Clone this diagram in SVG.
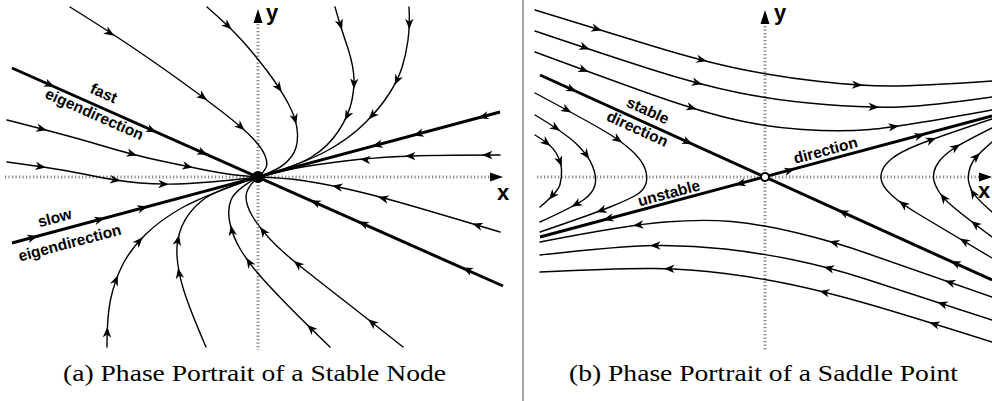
<svg xmlns="http://www.w3.org/2000/svg" xmlns:xlink="http://www.w3.org/1999/xlink" width="992" height="401" viewBox="0 0 992 401">
<style>
.thin{fill:none;stroke:#000;stroke-width:1.4;stroke-linecap:round}
.thick{fill:none;stroke:#000;stroke-width:3}
.axis{fill:none;stroke:#888;stroke-width:3;stroke-dasharray:1.2 2.3}
.lbl{font-family:"Liberation Sans",Arial,Helvetica,sans-serif;font-weight:bold;font-size:15.5px;text-anchor:middle;fill:#000}
.ax{font-family:"Liberation Sans",Arial,Helvetica,sans-serif;font-weight:bold;font-size:22px;fill:#000}
.cap{font-family:"Liberation Serif","Times New Roman",serif;font-size:24px;fill:#000}
</style>
<defs>
<path id="ah" d="M5,0 L-5.5,-4.2 L-2.5,0 L-5.5,4.2 Z" fill="#000"/>
</defs>
<rect width="992" height="401" fill="#fff"/>
<line x1="523" y1="0" x2="523" y2="401" stroke="#777" stroke-width="1.3"/>

<!-- Panel (a): stable node -->
<g id="panel-a-axes">
<line class="axis" x1="258" y1="24" x2="258" y2="350"/>
<line class="axis" x1="5" y1="177" x2="490" y2="177"/>
<polygon points="258,9 253.5,23 262.5,23" fill="#000"/>
<polygon points="503,177 490,172.5 490,181.5" fill="#000"/>
<text class="ax" x="266" y="20">y</text>
<text class="ax" x="497" y="200">x</text>
</g>
<g id="panel-a-trajectories">
<path class="thick" d="M12,68 L503,286"/>
<path class="thick" d="M12,243 L500,112"/>
<path class="thin" d="M70,7 Q110,32 135,49 Q160,66 181.5,81.5 Q203,97 223,112.5 Q243,128 252.5,138 Q262,148 265,155.5 Q268,163 266,167.5 Q264,172 258,177"/>
<path class="thin" d="M207,7 Q230,27 242.5,41 Q255,55 267.5,71.5 Q280,88 288.5,104 Q297,120 297.5,134 Q298,148 291.5,156.5 Q285,165 276,169.5 Q267,174 258,177"/>
<path class="thin" d="M335,7 Q341,28 346.5,44 Q352,60 353.5,72.5 Q355,85 352,100 Q349,115 338.5,131 Q328,147 311.5,157 Q295,167 258,177"/>
<path class="thin" d="M409,7 Q410,25 408,40 Q406,55 402,67.5 Q398,80 389,94 Q380,108 365,123 Q350,138 327.5,150.5 Q305,163 258,177"/>
<path class="thin" d="M500,155 Q430,155 400,156.5 Q370,158 345,161 Q320,164 302.5,167 Q285,170 258,177"/>
<path class="thin" d="M500,232 Q430,211 400,202.5 Q370,194 345,188.5 Q320,183 302.5,180.5 Q285,178 258,177"/>
<path class="thin" d="M7,120 Q70,136 101.5,145.5 Q133,155 161.5,161 Q190,167 210,171 Q230,175 258,177"/>
<path class="thin" d="M7,162 Q60,169 88.5,175 Q117,181 140,183 Q163,185 189,183.5 Q215,182 258,177"/>
<path class="thin" d="M107,347 Q107,315 111,297.5 Q115,280 122.5,265 Q130,250 145,235 Q160,220 182.5,207.5 Q205,195 258,177"/>
<path class="thin" d="M206,347 Q190,310 184,291 Q178,272 177,256 Q176,240 182,226 Q188,212 201.5,201 Q215,190 258,177"/>
<path class="thin" d="M330,347 Q300,318 284,301.5 Q268,285 258,273.5 Q248,262 240.5,249.5 Q233,237 230,223.5 Q227,210 231,200 Q235,190 258,177"/>
<path class="thin" d="M403,347 Q360,313 337.5,295.5 Q315,278 297.5,264 Q280,250 269,238 Q258,226 252,215.5 Q246,205 246,196.5 Q246,188 258,177"/>
</g>
<g id="panel-a-arrows">
<use href="#ah" transform="translate(50,84.8) rotate(23.9)"/>
<use href="#ah" transform="translate(152,130.2) rotate(23.9)"/>
<use href="#ah" transform="translate(203,152.8) rotate(23.9)"/>
<use href="#ah" transform="translate(315,202.3) rotate(203.9)"/>
<use href="#ah" transform="translate(363,223.5) rotate(203.9)"/>
<use href="#ah" transform="translate(467,269.6) rotate(203.9)"/>
<use href="#ah" transform="translate(483,116.7) rotate(165)"/>
<use href="#ah" transform="translate(418,134.1) rotate(165)"/>
<use href="#ah" transform="translate(377,145.1) rotate(165)"/>
<use href="#ah" transform="translate(33,237.4) rotate(-15)"/>
<use href="#ah" transform="translate(100,219.4) rotate(-15)"/>
<use href="#ah" transform="translate(143,207.8) rotate(-15)"/>
<use href="#ah" transform="translate(110,33) rotate(32)"/>
<use href="#ah" transform="translate(203,97) rotate(36)"/>
<use href="#ah" transform="translate(241,127) rotate(42)"/>
<use href="#ah" transform="translate(228,26) rotate(42)"/>
<use href="#ah" transform="translate(279,88) rotate(55)"/>
<use href="#ah" transform="translate(295,119.5) rotate(75)"/>
<use href="#ah" transform="translate(340.5,25) rotate(72)"/>
<use href="#ah" transform="translate(354,84) rotate(92)"/>
<use href="#ah" transform="translate(347,116) rotate(118)"/>
<use href="#ah" transform="translate(409.3,24.3) rotate(90)"/>
<use href="#ah" transform="translate(396.8,80.4) rotate(115)"/>
<use href="#ah" transform="translate(372,115.6) rotate(135)"/>
<use href="#ah" transform="translate(487,155) rotate(180)"/>
<use href="#ah" transform="translate(410,156) rotate(181)"/>
<use href="#ah" transform="translate(365,159.5) rotate(186)"/>
<use href="#ah" transform="translate(477,225.2) rotate(196)"/>
<use href="#ah" transform="translate(383,198.2) rotate(195)"/>
<use href="#ah" transform="translate(337,186.6) rotate(191)"/>
<use href="#ah" transform="translate(42,129) rotate(15)"/>
<use href="#ah" transform="translate(132.3,154.1) rotate(16)"/>
<use href="#ah" transform="translate(187.9,166.5) rotate(12)"/>
<use href="#ah" transform="translate(41,166.7) rotate(8)"/>
<use href="#ah" transform="translate(115.6,180) rotate(8)"/>
<use href="#ah" transform="translate(163.8,184.1) rotate(1)"/>
<use href="#ah" transform="translate(107.2,332) rotate(-88)"/>
<use href="#ah" transform="translate(116,280) rotate(-68)"/>
<use href="#ah" transform="translate(139.3,241) rotate(-47)"/>
<use href="#ah" transform="translate(179,273) rotate(-100)"/>
<use href="#ah" transform="translate(178,240) rotate(-78)"/>
<use href="#ah" transform="translate(310.7,328.2) rotate(-136)"/>
<use href="#ah" transform="translate(249,262) rotate(-122)"/>
<use href="#ah" transform="translate(231.8,230.2) rotate(-100)"/>
<use href="#ah" transform="translate(372,322.4) rotate(-141)"/>
<use href="#ah" transform="translate(297.5,264) rotate(-141)"/>
<use href="#ah" transform="translate(263,231) rotate(-125)"/>
</g>
<g id="panel-a-origin"><circle cx="258" cy="177" r="6" fill="#000"/></g>
<g id="panel-a-labels">
<g transform="translate(98,106.2) rotate(23.9)">
<text class="lbl" x="0" y="-9">fast</text>
<text class="lbl" x="0" y="14">eigendirection</text>
</g>
<g transform="translate(62,229.6) rotate(-15)">
<text class="lbl" x="-4" y="-8">slow</text>
<text class="lbl" x="4" y="20">eigendirection</text>
</g>
</g>
<text id="caption-a" class="cap" x="63" y="381" textLength="383" lengthAdjust="spacingAndGlyphs">(a) Phase Portrait of a Stable Node</text>

<!-- Panel (b): saddle point -->
<g id="panel-b-axes">
<line class="axis" x1="765" y1="26" x2="765" y2="350"/>
<line class="axis" x1="537" y1="177" x2="980" y2="177"/>
<polygon points="765,10 760.5,24 769.5,24" fill="#000"/>
<polygon points="992,177 979,172.5 979,181.5" fill="#000"/>
<text class="ax" x="774" y="20">y</text>
<text class="ax" x="978" y="198">x</text>
</g>
<g id="panel-b-trajectories">
<path class="thick" d="M540,75 L992,280"/>
<path class="thick" d="M540,237 L992,116"/>
<path class="thin" d="M535,10 Q600,30 652.5,46 Q705,62 742.5,69.5 Q780,77 820,81.5 Q860,86 890,86 Q920,86 992,81"/>
<path class="thin" d="M535,31 Q600,53 650,69 Q700,85 740,93 Q780,101 825,104.5 Q870,108 900,107 Q930,106 992,97"/>
<path class="thin" d="M535,52 Q600,76 647.5,93 Q695,110 730,118.5 Q765,127 802.5,129.5 Q840,132 870,129.5 Q900,127 992,110"/>
<path class="thin" d="M992,258 Q940,227 920,215 Q900,203 892,195.5 Q884,188 882,182.5 Q880,177 882,171 Q884,165 892,158.5 Q900,152 917.5,145 Q935,138 992,119"/>
<path class="thin" d="M992,237 Q960,213 951,205 Q942,197 938.5,191 Q935,185 934,181 Q933,177 934,172 Q935,167 939,161.5 Q943,156 951.5,150 Q960,144 992,128"/>
<path class="thin" d="M992,212 Q975,197 972,191 Q969,185 968.5,181 Q968,177 969,171.5 Q970,166 973.5,160.5 Q977,155 992,142"/>
<path class="thin" d="M535,93 Q580,117 600,128.5 Q620,140 631,150 Q642,160 645,168.5 Q648,177 646,183.5 Q644,190 637,194.5 Q630,199 610,207 Q590,215 540,232"/>
<path class="thin" d="M535,115 Q565,133 576.5,144 Q588,155 592.5,166 Q597,177 595,185 Q593,193 584,199.5 Q575,206 540,222"/>
<path class="thin" d="M535,135 Q552,145 556.5,153.5 Q561,162 561.5,169.5 Q562,177 560,184.5 Q558,192 540,207"/>
<path class="thin" d="M992,297 Q900,265 867.5,253.5 Q835,242 797.5,233 Q760,224 731.5,221.5 Q703,219 665,222 Q627,225 540,242"/>
<path class="thin" d="M992,320 Q900,290 864,278.5 Q828,267 794,260 Q760,253 725,249 Q690,245 655,245.5 Q620,246 540,255"/>
<path class="thin" d="M992,342 Q900,313 861,302 Q822,291 791,284.5 Q760,278 725,273.5 Q690,269 655,268.5 Q620,268 540,272"/>
</g>
<g id="panel-b-arrows">
<use href="#ah" transform="translate(572,89.5) rotate(24.4)"/>
<use href="#ah" transform="translate(688,142.1) rotate(24.4)"/>
<use href="#ah" transform="translate(843,212.3) rotate(204.4)"/>
<use href="#ah" transform="translate(955,263.1) rotate(204.4)"/>
<use href="#ah" transform="translate(608,218.8) rotate(165)"/>
<use href="#ah" transform="translate(740,183.7) rotate(165)"/>
<use href="#ah" transform="translate(790,170.3) rotate(-15)"/>
<use href="#ah" transform="translate(920,135.6) rotate(-15)"/>
<use href="#ah" transform="translate(597,29) rotate(17)"/>
<use href="#ah" transform="translate(702,60) rotate(13)"/>
<use href="#ah" transform="translate(857.5,84.9) rotate(3)"/>
<use href="#ah" transform="translate(585,47.6) rotate(19)"/>
<use href="#ah" transform="translate(697.5,83) rotate(15)"/>
<use href="#ah" transform="translate(874,107) rotate(2)"/>
<use href="#ah" transform="translate(584,70) rotate(20)"/>
<use href="#ah" transform="translate(691.9,107.9) rotate(17)"/>
<use href="#ah" transform="translate(894,126.7) rotate(-7)"/>
<use href="#ah" transform="translate(964,241) rotate(211)"/>
<use href="#ah" transform="translate(903,204) rotate(216)"/>
<use href="#ah" transform="translate(931.6,139.8) rotate(-21)"/>
<use href="#ah" transform="translate(975,224) rotate(218)"/>
<use href="#ah" transform="translate(943.4,197.5) rotate(233)"/>
<use href="#ah" transform="translate(956,147) rotate(-33)"/>
<use href="#ah" transform="translate(973,193) rotate(238)"/>
<use href="#ah" transform="translate(976.6,156.5) rotate(-45)"/>
<use href="#ah" transform="translate(567,110) rotate(29)"/>
<use href="#ah" transform="translate(618,139.6) rotate(35)"/>
<use href="#ah" transform="translate(601,210.6) rotate(160)"/>
<use href="#ah" transform="translate(556,128) rotate(33)"/>
<use href="#ah" transform="translate(586.4,155) rotate(55)"/>
<use href="#ah" transform="translate(576,204.3) rotate(150)"/>
<use href="#ah" transform="translate(546.6,142.8) rotate(38)"/>
<use href="#ah" transform="translate(560,161.8) rotate(70)"/>
<use href="#ah" transform="translate(552,196) rotate(130)"/>
<use href="#ah" transform="translate(949.7,282.3) rotate(199)"/>
<use href="#ah" transform="translate(833.8,242.6) rotate(195)"/>
<use href="#ah" transform="translate(638,225) rotate(175)"/>
<use href="#ah" transform="translate(942,303.7) rotate(198)"/>
<use href="#ah" transform="translate(828.5,268.1) rotate(194)"/>
<use href="#ah" transform="translate(655,245.5) rotate(180)"/>
<use href="#ah" transform="translate(934,324) rotate(197)"/>
<use href="#ah" transform="translate(824,292) rotate(193)"/>
<use href="#ah" transform="translate(669,268.8) rotate(180)"/>
</g>
<g id="panel-b-origin"><circle cx="765" cy="177" r="4" fill="#fff" stroke="#000" stroke-width="2"/></g>
<g id="panel-b-labels">
<g transform="translate(641,120.8) rotate(24.4)">
<text class="lbl" x="2" y="-7">stable</text>
<text class="lbl" x="0" y="14">direction</text>
</g>
<text class="lbl" transform="translate(671.2,202.1) rotate(-15)" x="0" y="-4">unstable</text>
<text class="lbl" transform="translate(828.2,160.2) rotate(-15)" x="0" y="-5">direction</text>
</g>
<text id="caption-b" class="cap" x="569" y="381" textLength="389" lengthAdjust="spacingAndGlyphs">(b) Phase Portrait of a Saddle Point</text>
</svg>
